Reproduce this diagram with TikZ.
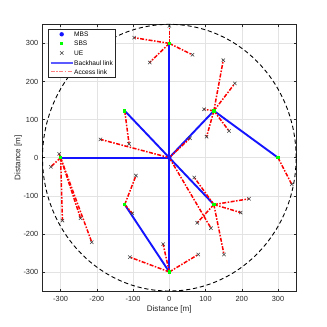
\documentclass[tikz,border=0pt]{standalone}
\usepackage{fontspec}
\setmainfont{Liberation Sans}
\usetikzlibrary{shapes.misc}
\definecolor{bhblue}{HTML}{1414FF}
\definecolor{acred}{HTML}{FF0000}
\definecolor{sbsgreen}{HTML}{00FF00}
\definecolor{axgray}{HTML}{262626}
\definecolor{gridgray}{HTML}{E3E3E3}
\definecolor{uegray}{HTML}{404040}
\pgfdeclarelayer{grid}
\pgfdeclarelayer{links}
\pgfsetlayers{grid,links,main}
\tikzset{
  mbs/.style     ={circle, fill=bhblue, minimum size=4.4bp, inner sep=0pt},
  sbs/.style     ={rectangle, fill=sbsgreen, minimum size=3.5bp, inner sep=0pt},
  ue/.style      ={cross out, draw=uegray, minimum size=2.8bp, inner sep=0pt, line width=0.55bp},
  backhaul/.style={draw=bhblue, line width=1.9bp},
  access/.style  ={draw=acred, line width=1.5bp,
                   dash pattern=on 4bp off 1.5bp on 1.5bp off 1.5bp},
  gridline/.style={draw=gridgray, line width=0.4bp},
  axline/.style  ={draw=axgray, line width=0.4bp},
  ticklabel/.style={font=\fontsize{7.4}{8}\selectfont, text=axgray, inner sep=0pt},
  axlabel/.style ={font=\fontsize{8.1}{9}\selectfont, text=axgray, inner sep=0pt},
  legtext/.style ={font=\fontsize{6.6}{7}\selectfont, inner sep=0pt, anchor=west},
}

\begin{document}
\begin{tikzpicture}[x=0.3623bp, y=0.381bp]
    \useasboundingbox (-467.3,-444.4) rectangle (435.3,413.9);
    % --- axes, grid, ticks ---
    \begin{pgfonlayer}{grid}
      \foreach \v in {-300,-200,...,300}{
        \draw[gridline] (\v,-350) -- (\v,350);
        \draw[gridline] (-350,\v) -- (350,\v);
      }
    \end{pgfonlayer}
    \draw[axline] (-350,-350) rectangle (350,350);
    \foreach \v in {-300,-200,...,300}{
      \draw[axline] (\v,-350) -- ++(0,6.5);
      \draw[axline] (\v,350) -- ++(0,-6.5);
      \draw[axline] (-350,\v) -- ++(7,0);
      \draw[axline] (350,\v) -- ++(-7,0);
      \node[ticklabel, anchor=north, yshift=-5bp] at (\v,-350) {\v};
      \node[ticklabel, anchor=east, xshift=-4bp] at (-350,\v) {\v};
    }
    \node[axlabel] (xlab) at (0,-399) {Distance [m]};
    \node[axlabel, rotate=90] (ylab) at (-416.8,0) {Distance [m]};
    % --- coverage circle ---
    \draw[black, line width=0.9bp, dash pattern=on 4.2bp off 2.8bp] (0,0) circle[radius=350];
    % --- base stations ---
    \node[mbs] (M) at (0,0) {};
    \foreach \n/\x/\y in {S1/0/300, S2/300/0, S3/0/-300, S4/-300/0,
                          S5/123/123, S6/-123/123, S7/-123/-123, S8/123/-123}
      \node[sbs] (\n) at (\x,\y) {};
    % --- users ---
    \foreach \u/\x/\y in {u1/0/346, u2/-97/315, u3/-54/250, u4/64/270,
                          u5/338/-70, u6/-17/-227, u7/-109/-261, u8/80/-254,
                          u9/-304/10, u10/-327/-24, u11/-295/-165, u12/-245/-159,
                          u13/-214/-222, u14/96/127, u15/149/256, u16/181/195,
                          u17/103/55, u18/165/70, u19/-111/36, u20/-92/-47,
                          u21/-102/-146, u22/69/-52, u23/77/-171, u24/220/-108,
                          u25/197/-144, u26/151/-254, u27/-190/48, u28/57/51,
                          u29/115/-185}
      \node[ue] (\u) at (\x,\y) {};
    % --- links ---
    \begin{pgfonlayer}{links}
      \foreach \a/\b in {M/S1, M/S3, M/S4, M/S5, M/S6, M/S8, S5/S2, S7/S3}
        \draw[backhaul] (\a.center) -- (\b.center);
      \foreach \a/\b in {S1/u1, S1/u2, S1/u3, S1/u4, S2/u5, S3/u6, S3/u7, S3/u8,
                         S4/u9, S4/u10, S4/u11, S4/u12, S4/u13, S5/u14, S5/u15,
                         S5/u16, S5/u17, S5/u18, S6/u19, S7/u20, S7/u21, S8/u22,
                         S8/u23, S8/u24, S8/u25, S8/u26, M/u27, M/u28, M/u29}
        \draw[access] (\a.center) -- (\b.center);
    \end{pgfonlayer}
    % --- legend ---
    \draw[axline, fill=white] (-332.9,211) rectangle (-149,336);
    \node[mbs] (lm) at (-297,323.9) {};
    \node[sbs] (ls) at (-297,299.2) {};
    \node[ue]  (lu) at (-297,274.8) {};
    \draw[backhaul, draw=bhblue!70] (-327.4,249.3) -- (-266.6,249.3);
    \draw[access, draw=acred!50] (-327.4,225.7) -- (-266.6,225.7);
    \node[legtext] at (-263,323.9) {MBS};
    \node[legtext] at (-263,299.2) {SBS};
    \node[legtext] at (-263,274.8) {UE};
    \node[legtext] at (-263,249.3) {Backhaul link};
    \node[legtext] at (-263,225.7) {Access link};
  \end{tikzpicture}
\end{document}
